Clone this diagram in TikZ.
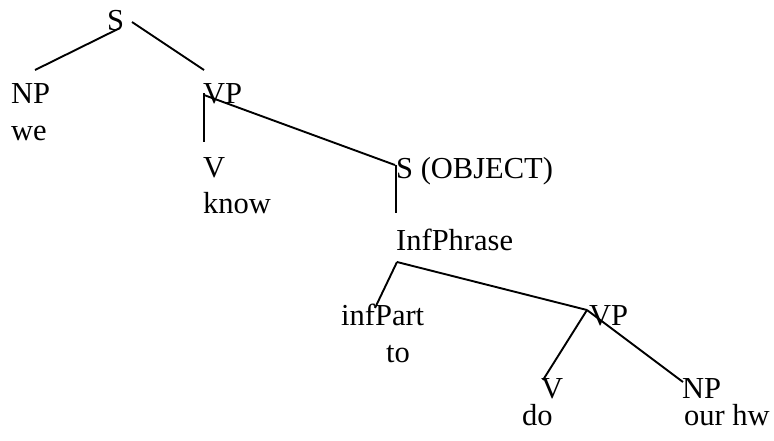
\documentclass[tikz,border=0pt]{standalone}
\usepackage{fontspec}
\setmainfont{Liberation Serif}
\usepackage{tikz}
\usetikzlibrary{calc,positioning}

\tikzset{cat/.style={
    inner sep=0pt,
    anchor=base west,
    font=\fontsize{30.5}{36}\selectfont,
  }}
\tikzset{branch/.style={
    line width=1.9pt,
  }}

\begin{document}
\begin{tikzpicture}[x=1pt,y=-1pt]
        \useasboundingbox (0,0) rectangle (774,440);

        \node (s) [cat] at (107,30) {S};

        \node (np) [cat] at (11,103) {NP};
        \node (we) [cat] at (11,140) {we};

        \node (vp) [cat] at (203,103) {VP};
        \node (v) [cat] at (203,177) {V};
        \node (know) [cat] at (203,213) {know};

        \node (sobj) [cat] at (396,178) {S (OBJECT)};
        \node (infphrase) [cat] at (396,250) {InfPhrase};

        \node (infpart) [cat] at (341,325) {infPart};
        \node (to) [cat] at (386,362) {to};

        \node (vpinf) [cat] at (589,325) {VP};
        \node (vdo) [cat] at (541,398) {V};
        \node (do) [cat] at (522,425) {do};
        \node (nphw) [cat] at (682,398) {NP};
        \node (hw) [cat] at (684,425) {our hw};

        % S -> NP VP
        \draw [branch] ($(s.base west) + (13,-2)$) -- ($(np.base west) + (24,-33)$);
        \draw [branch] ($(s.base west) + (25,-8)$) -- ($(vp.base west) + (1,-33)$);

        % VP -> V S(OBJECT)
        \draw [branch] ($(vp.base west) + (1,-10)$) -- ($(v.base west) + (1,-35)$);
        \draw [branch] ($(vp.base west) + (1,-8)$) -- ($(sobj.base west) + (-1,-13)$);

        \draw [branch] ($(sobj.base west) + (0,-13)$) -- ($(infphrase.base west) + (0,-37)$);

        % InfPhrase -> infPart VP
        \draw [branch] ($(infphrase.base west) + (1,12)$) -- ($(infpart.base west) + (34,-17)$);
        \draw [branch] ($(infphrase.base west) + (1,12)$) -- ($(vpinf.base west) + (-2,-15)$);

        % VP -> V NP
        \draw [branch] ($(vpinf.base west) + (-2,-15)$) -- ($(vdo.base west) + (2,-18)$);
        \draw [branch] ($(vpinf.base west) + (-2,-15)$) -- ($(nphw.base west) + (1,-16)$);
      \end{tikzpicture}
\end{document}
